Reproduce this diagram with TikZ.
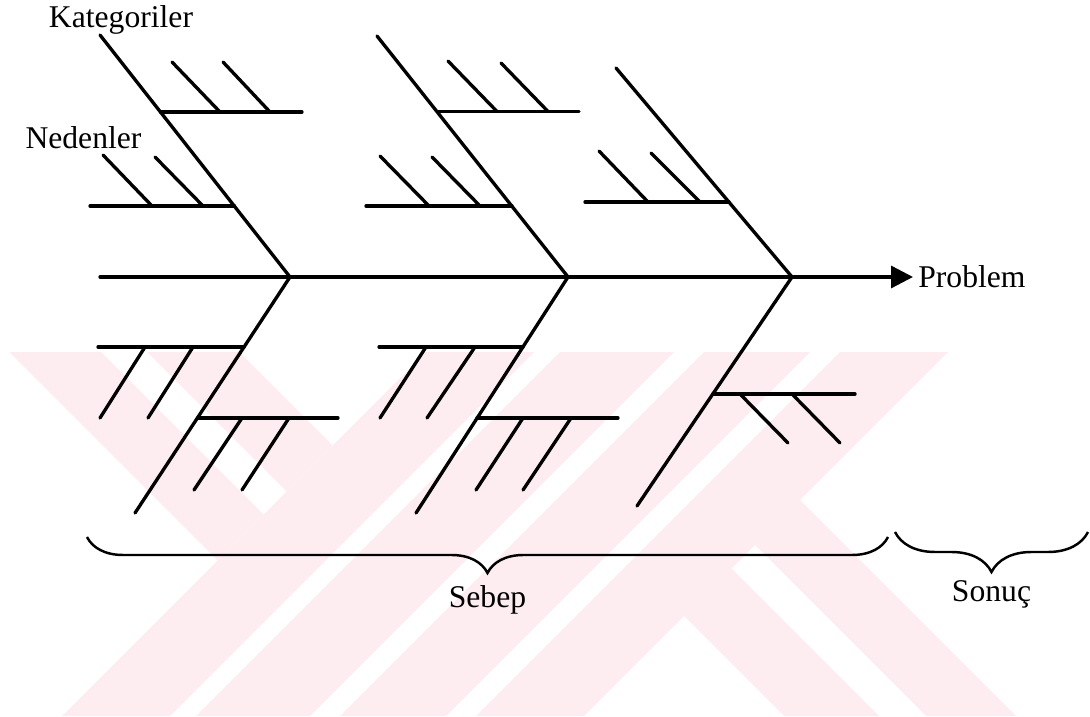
\documentclass[tikz,border=0pt]{standalone}
\usepackage{fontspec}
\setmainfont{Liberation Serif}
\usetikzlibrary{arrows.meta,positioning,decorations.pathreplacing}
\definecolor{wmpink}{RGB}{253,237,240}

\begin{document}
\begin{tikzpicture}[font=\fontsize{18}{22}\selectfont,
  bone/.style={line width=1.9pt,line cap=round},
  brc/.style={line width=1.4pt,decorate,decoration={brace,mirror,amplitude=#1}},
  lbl/.style={inner sep=0pt}]
\useasboundingbox (0,0) rectangle (21.8,14.32);
% faint stripes behind the lower half
\begin{scope}[wmpink]
\fill (0.18,7.28)--(2.02,7.28)--(5.27,4.03)--(4.35,3.11)--cycle;
\fill (2.94,7.28)--(4.78,7.28)--(6.65,5.41)--(5.73,4.49)--cycle;
\foreach \a/\b in {1.24/3.40,3.92/6.20,6.80/8.92,9.52/11.68}
  \fill (\a,0)--(\b,0)--(\b+7.28,7.28)--(\a+7.28,7.28)--cycle;
\fill (13.68,2.00)--(14.63,2.95)--(17.58,0)--(15.68,0)--cycle;
\fill (15.10,3.42)--(16.00,4.32)--(20.32,0)--(18.52,0)--cycle;
\end{scope}

% spine
\coordinate (tail) at (2.0,8.78);
\coordinate (j1) at (5.8,8.78);
\coordinate (j2) at (11.36,8.78);
\coordinate (j3) at (15.84,8.78);
\coordinate (head) at (18.26,8.78);
\draw[bone,-{Triangle[length=0.44cm,width=0.44cm]}] (tail)--(head);
\node[lbl,right=0.1cm of head] (prob) {Problem};

% upper bones
\draw[bone] (2.0,13.62)--(j1);
\draw[bone] (3.21,12.08)--(6.04,12.08);
\draw[bone] (3.44,13.08)--(4.40,12.08);
\draw[bone] (4.46,13.08)--(5.40,12.08);
\draw[bone] (1.80,10.20)--(4.69,10.20);
\draw[bone] (2.06,11.22)--(3.04,10.20);
\draw[bone] (3.10,11.18)--(4.06,10.20);

\draw[bone] (7.54,13.60)--(j2);
\draw[bone] (8.74,12.09)--(11.58,12.09);
\draw[bone] (8.96,13.10)--(9.94,12.09);
\draw[bone] (10.02,13.06)--(10.96,12.09);
\draw[bone] (7.32,10.20)--(10.24,10.20);
\draw[bone] (7.60,11.20)--(8.58,10.20);
\draw[bone] (8.64,11.18)--(9.60,10.20);

\draw[bone] (12.32,12.96)--(j3);
\draw[bone] (11.70,10.28)--(14.58,10.28);
\draw[bone] (11.98,11.30)--(12.96,10.28);
\draw[bone] (13.02,11.26)--(14.00,10.28);

% lower bones
\draw[bone] (j1)--(2.70,4.06);
\draw[bone] (1.96,7.38)--(4.88,7.38);
\draw[bone] (2.90,7.38)--(2.00,5.96);
\draw[bone] (3.86,7.38)--(2.96,5.96);
\draw[bone] (3.95,5.96)--(6.76,5.96);
\draw[bone] (4.84,5.96)--(3.88,4.52);
\draw[bone] (5.78,5.96)--(4.84,4.52);

\draw[bone] (j2)--(8.32,4.06);
\draw[bone] (7.58,7.38)--(10.46,7.38);
\draw[bone] (8.52,7.38)--(7.60,5.96);
\draw[bone] (9.50,7.38)--(8.54,5.96);
\draw[bone] (9.54,5.96)--(12.36,5.96);
\draw[bone] (10.46,5.96)--(9.52,4.52);
\draw[bone] (11.42,5.96)--(10.46,4.52);

\draw[bone] (j3)--(12.74,4.20);
\draw[bone] (14.26,6.44)--(17.10,6.44);
\draw[bone] (14.80,6.44)--(15.76,5.46);
\draw[bone] (15.84,6.44)--(16.80,5.46);

\node[lbl,anchor=base] (kat) at (2.42,13.76) {Kategoriler};
\node[lbl,anchor=base] (ned) at (1.67,11.34) {Nedenler};

% braces under the diagram
\coordinate (s1) at (1.74,3.58);
\coordinate (s2) at (17.76,3.58);
\coordinate (r1) at (17.90,3.68);
\coordinate (r2) at (21.76,3.68);
\draw[brc=0.72cm] (s1)--(s2);
\draw[brc=0.8cm] (r1)--(r2);
\coordinate (stip) at (9.75,2.86);
\coordinate (rtip) at (19.83,2.88);
\node[lbl,below=0.24cm of stip] (sebep) {Sebep};
\node[lbl,below=0.16cm of rtip] (sonuc) {Sonuç};
\end{tikzpicture}
\end{document}
